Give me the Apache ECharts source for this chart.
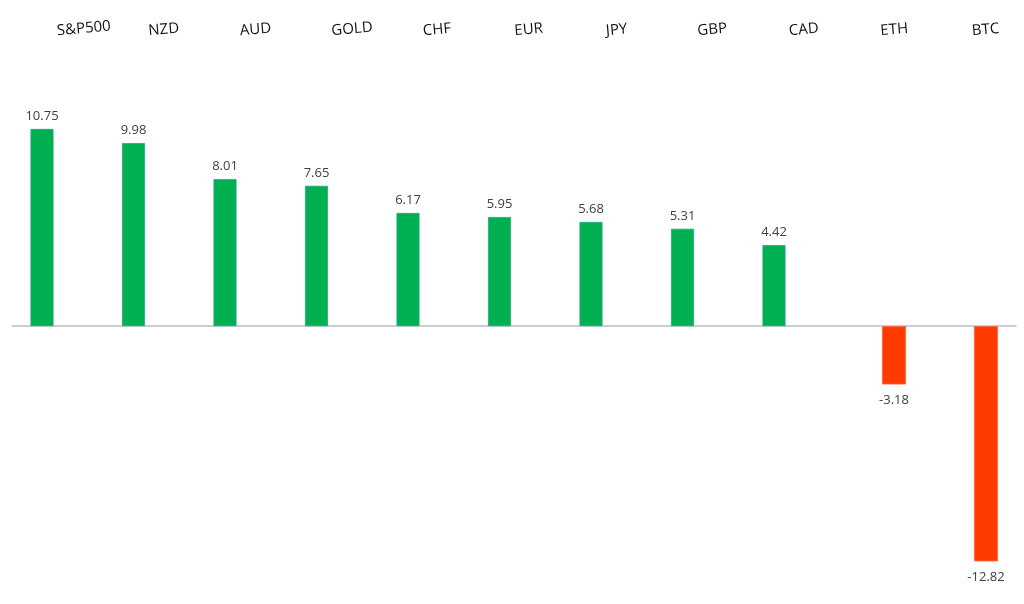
<!DOCTYPE html>
<html>
<head>
<meta charset="utf-8">
<script src="https://cdn.jsdelivr.net/npm/echarts@6/dist/echarts.min.js"></script>
<style>html,body{margin:0;padding:0;background:#fff;}#c{width:1024px;height:604px;}</style>
</head>
<body>
<div id="c"></div>
<script>
var categories = ['S&P500','NZD','AUD','GOLD','CHF','EUR','JPY','GBP','CAD','ETH','BTC'];
var gainCategories = ['S&P500','NZD','AUD','GOLD','CHF','EUR','JPY','GBP','CAD'];
var gainValues = [10.75, 9.98, 8.01, 7.65, 6.17, 5.95, 5.68, 5.31, 4.42];
var lossCategories = ['ETH','BTC'];
var lossValues = [-3.18, -12.82];

var chart = echarts.init(document.getElementById('c'));
var yBase = {min: -14, max: 12, show: false};
var hiddenX = {axisLine:{show:false}, axisTick:{show:false}, axisLabel:{show:false}, splitLine:{show:false}};
var valLabel = {show: true, color: '#404040', fontSize: 13, fontFamily: 'Open Sans', formatter: function(p){return p.value.toFixed(2);}};
var G = {top: 106, bottom: 21};
chart.setOption({
  animation: false,
  grid: [
    Object.assign({left: 42, right: 250}, G),
    Object.assign({left: 894, right: 38}, G),
    Object.assign({left: 12, right: 8}, G),
    Object.assign({left: 57, right: 52}, G)
  ],
  xAxis: [
    Object.assign({type:'category', gridIndex:0, boundaryGap:false, data: gainCategories}, hiddenX),
    Object.assign({type:'category', gridIndex:1, boundaryGap:false, data: lossCategories}, hiddenX),
    {type:'category', gridIndex:2, data:[''], axisLine:{show:true, onZero:true, lineStyle:{color:'#bfbfbf', width:1.5}}, axisTick:{show:false}, axisLabel:{show:false}},
    {type:'category', gridIndex:3, position:'top', boundaryGap:false, data: categories,
      axisLine:{show:false}, axisTick:{show:false},
      axisLabel:{show:true, interval:0, rotate:5, align:'left', verticalAlign:'middle', margin:75, color:'#111', fontSize:15, fontFamily:'Open Sans'}}
  ],
  yAxis: [
    Object.assign({type:'value', gridIndex:0}, yBase),
    Object.assign({type:'value', gridIndex:1}, yBase),
    Object.assign({type:'value', gridIndex:2}, yBase),
    Object.assign({type:'value', gridIndex:3}, yBase)
  ],
  series: [
    {type:'bar', xAxisIndex:0, yAxisIndex:0, data: gainValues, barWidth: 23,
      itemStyle:{color:'#00b050', borderColor:'#1fa882', borderWidth:0.8},
      label: Object.assign({position:'top', distance:6}, valLabel)},
    {type:'bar', xAxisIndex:1, yAxisIndex:1, data: lossValues, barWidth: 24,
      itemStyle:{color:'#ff3a00', borderColor:'#ff6a3a', borderWidth:0.8},
      label: Object.assign({position:'bottom', distance:9}, valLabel)}
  ]
});
</script>
</body>
</html>
